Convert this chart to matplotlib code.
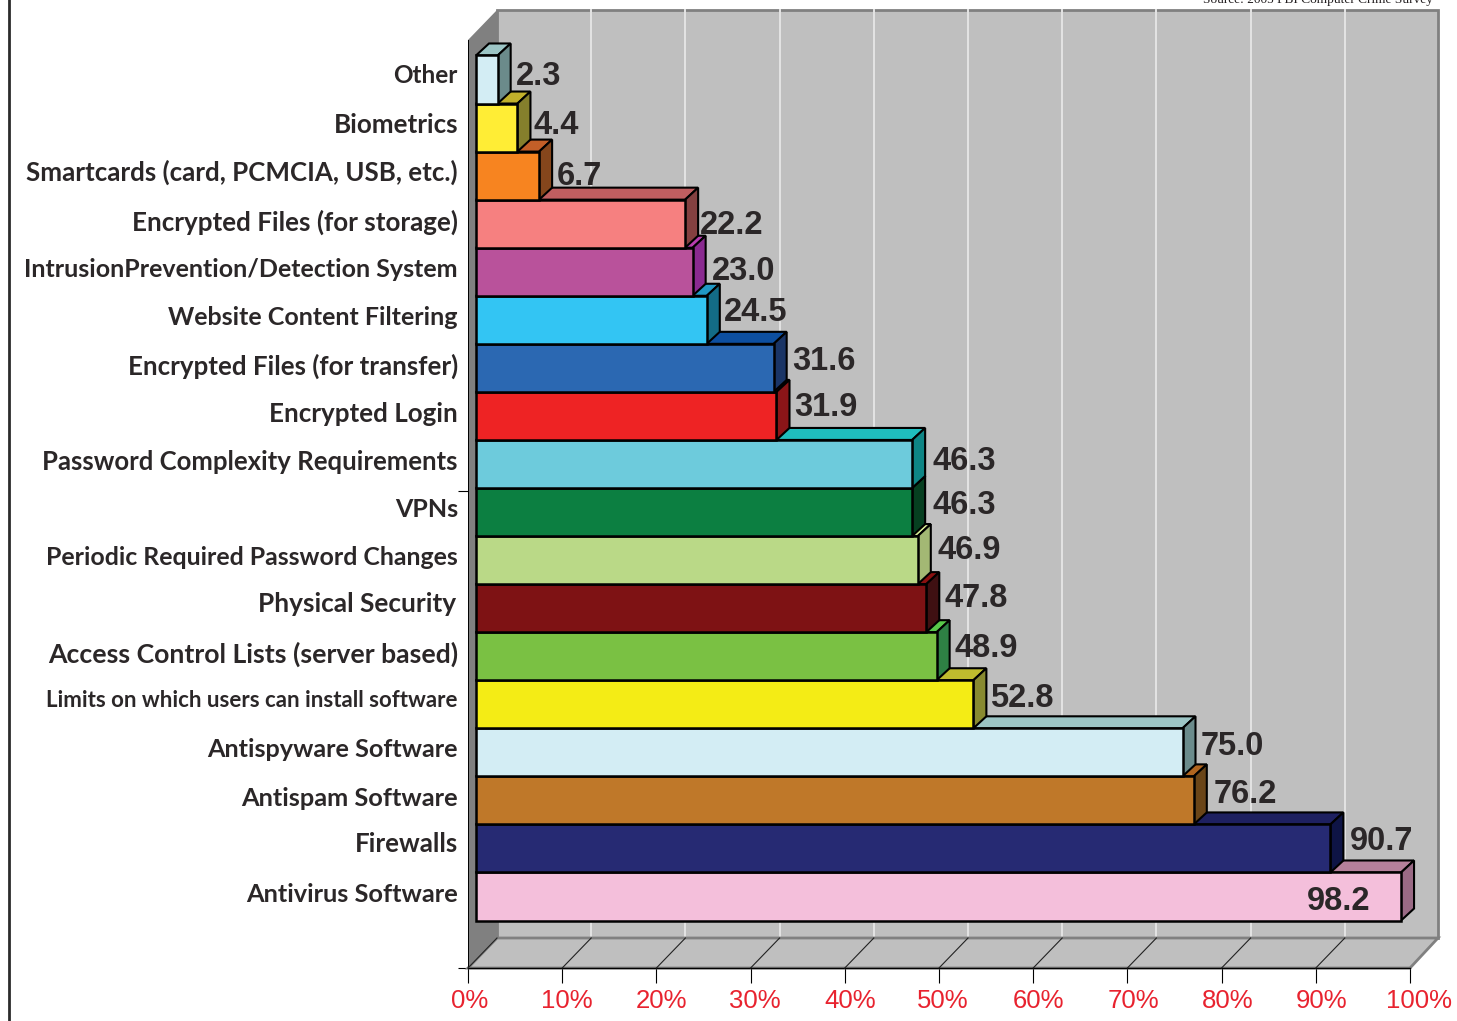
import matplotlib
matplotlib.use("Agg")
from matplotlib import pyplot as plt
from matplotlib.patches import Polygon, Rectangle
from matplotlib.transforms import Affine2D

categories = [
    "Other", "Biometrics", "Smartcards (card, PCMCIA, USB, etc.)",
    "Encrypted Files (for storage)", "IntrusionPrevention/Detection System",
    "Website Content Filtering", "Encrypted Files (for transfer)",
    "Encrypted Login", "Password Complexity Requirements", "VPNs",
    "Periodic Required Password Changes", "Physical Security",
    "Access Control Lists (server based)",
    "Limits on which users can install software", "Antispyware Software",
    "Antispam Software", "Firewalls", "Antivirus Software",
]
values = [2.3, 4.4, 6.7, 22.2, 23.0, 24.5, 31.6, 31.9, 46.3, 46.3, 46.9,
          47.8, 48.9, 52.8, 75.0, 76.2, 90.7, 98.2]
colors = ["#d3edf4", "#ffed35", "#f78420", "#f68080", "#b9529b", "#33c5f3",
          "#2b68b2", "#ee2324", "#6dcbdc", "#0c7f41", "#bad987", "#7e1214",
          "#7ac143", "#f4ec15", "#d3edf4", "#bf7829", "#262a73", "#f4bfdb"]
top_colors = ["#9cc5c5", "#c1b02b", "#c35f28", "#c05e60", "#b83db0", "#2098c4",
              "#0d4fa0", "#8c1417", "#1fbdbd", "#0a5a2e", "#d8ec96", "#8a1010",
              "#58c84a", "#bfbc2e", "#9cc5c5", "#b0651f", "#1e2060", "#b5809b"]
side_colors = ["#6b8b8b", "#857f2c", "#85461c", "#844040", "#8a2a90", "#136c86",
               "#1a3566", "#8b1518", "#0e8585", "#063f20", "#a3b874", "#3f1012",
               "#2e8044", "#888a30", "#6b8b8b", "#6a4518", "#0e1445", "#9a6a85"]
tick_values = list(range(0, 101, 10))

# pixel tweaks for labels, the original has them hand placed
cat_nudge = [4, 3, 3, 1, 2, 2, 2, 2, 2, 3, 3, 4, 2, 4, 3, 2, 4, 2]
cat_size = [17.5, 18.7, 18.6, 18.7, 18.0, 18.0, 18.6, 18.7, 18.5, 18.0, 17.9,
            18.9, 19.2, 16.0, 18.2, 18.3, 18.6, 18.3]
val_gap = [18, 16, 18, 15, 19, 17, 19, 18, 20, 20, 20, 18, 18, 17, 18, 20, 19, -94]
val_nudge = [3, 2, -1, -2, 0, 7, 6, 8, 2, 7, 10, 10, 8, 6, 6, 6, 7, -5]
tick_shift = [2, 5, 5, 4, 5, 4, 5, 6, 6, 6, 9]

W, H = 1457, 1021
LEFT, RIGHT, TOP, BOTTOM = 468, 1410, 40, 968
ROW = 48.06
YMIN, YMAX = (TOP - 79.5) / ROW, (BOTTOM - 79.5) / ROW
PX = 100 / (RIGHT - LEFT)

WALL_X, WALL_Y = 29 * PX, 30 / ROW
BAR_X = 8 * PX
SIDE_X, SIDE_Y = 13 * PX, 12 / ROW

INK = "#2b2728"
WALL = "#bfbfbf"
EDGE = "#808080"

fig = plt.figure(figsize=(W / 100, H / 100), dpi=100)
ax = fig.add_axes([LEFT / W, (H - BOTTOM) / H, (RIGHT - LEFT) / W, (BOTTOM - TOP) / H])
ax.set_xlim(0, 100)
ax.set_ylim(YMAX, YMIN)
ax.patch.set_visible(False)
for name in ["top", "right"]:
    ax.spines[name].set_visible(False)
ax.spines["left"].set_linewidth(0.7)
ax.spines["bottom"].set_linewidth(1.0)

# walls and floor
ax.add_patch(Rectangle((WALL_X, YMIN - WALL_Y), 100 - PX, YMAX - YMIN, fc=WALL, ec=EDGE, lw=2,
                       zorder=1, clip_on=False))
ax.add_patch(Polygon([(0, YMIN), (WALL_X, YMIN - WALL_Y), (WALL_X, YMAX - WALL_Y), (0, YMAX)],
                     fc=EDGE, ec="none", zorder=2, clip_on=False))
ax.add_patch(Polygon([(0, YMAX), (WALL_X, YMAX - WALL_Y), (100 + WALL_X - PX, YMAX - WALL_Y), (100, YMAX)],
                     fc=WALL, ec=EDGE, lw=2, zorder=2, clip_on=False))
for t in tick_values[1:-1]:
    ax.plot([t + WALL_X] * 2, [YMIN - WALL_Y, YMAX - WALL_Y], color="#e4e4e4", lw=1.4,
            zorder=1.5, clip_on=False)
for t in tick_values[:-1]:
    ax.plot([t, t + WALL_X], [YMAX, YMAX - WALL_Y], color="#222222", lw=0.8, zorder=3, clip_on=False)

# bars go bottom to top so the upper front faces cover the top faces below
for i in range(len(values) - 1, -1, -1):
    v = values[i]
    z = 10 + (len(values) - i)
    x1 = BAR_X + v
    top, bot = i - 0.5, i + 0.5
    ax.add_patch(Polygon([(BAR_X, top), (BAR_X + SIDE_X, top - SIDE_Y), (x1 + SIDE_X, top - SIDE_Y), (x1, top)],
                         fc=top_colors[i], ec="black", lw=1.5, zorder=z, clip_on=False))
    ax.add_patch(Polygon([(x1, top), (x1 + SIDE_X, top - SIDE_Y), (x1 + SIDE_X, bot - SIDE_Y), (x1, bot)],
                         fc=side_colors[i], ec="black", lw=1.5, zorder=z, clip_on=False))
    ax.barh(i, v, height=1.0, left=BAR_X, color=colors[i], edgecolor="black", linewidth=1.8,
            zorder=z + 0.5, clip_on=False)

for i, name in enumerate(categories):
    dx = -12 if name == "Physical Security" else -10
    ax.annotate(name, xy=(0, i), xytext=(dx, cat_nudge[i]), textcoords="offset pixels",
                ha="right", va="center", family="Lato", weight="bold", fontsize=cat_size[i],
                color=INK, annotation_clip=False, zorder=40)

for i, v in enumerate(values):
    ax.annotate(f"{v:.1f}", xy=(BAR_X + v + val_gap[i] * PX, i), xytext=(0, val_nudge[i]),
                textcoords="offset pixels", ha="left", va="center",
                family="Liberation Sans", weight="bold", fontsize=23.5,
                color=INK, annotation_clip=False, zorder=40)

ax.set_xticks(tick_values)
ax.set_xticklabels([f"{t}%" for t in tick_values], family="Liberation Sans", fontsize=18.5, color="#e8232f")
ax.tick_params(axis="x", length=11, width=0.8, pad=4)
for label, shift in zip(ax.get_xticklabels(), tick_shift):
    label.set_transform(label.get_transform() + Affine2D().translate(shift, 0))
ax.set_yticks([YMAX, (491 - 79.5) / ROW])
ax.set_yticklabels(["", ""])
ax.tick_params(axis="y", length=7, width=0.8)

# frame line at the left of the page and the cut off source line
fig.add_artist(plt.Line2D([8.5 / W] * 2, [0, 1], color="#2b2b2b", lw=2))
fig.text(1318 / W, 1 - 3 / H, "Source: 2005 FBI Computer Crime Survey", ha="center", va="baseline",
         family="Liberation Serif", fontsize=9.6, color="#231f20")

fig.savefig("out.png", dpi=100)
